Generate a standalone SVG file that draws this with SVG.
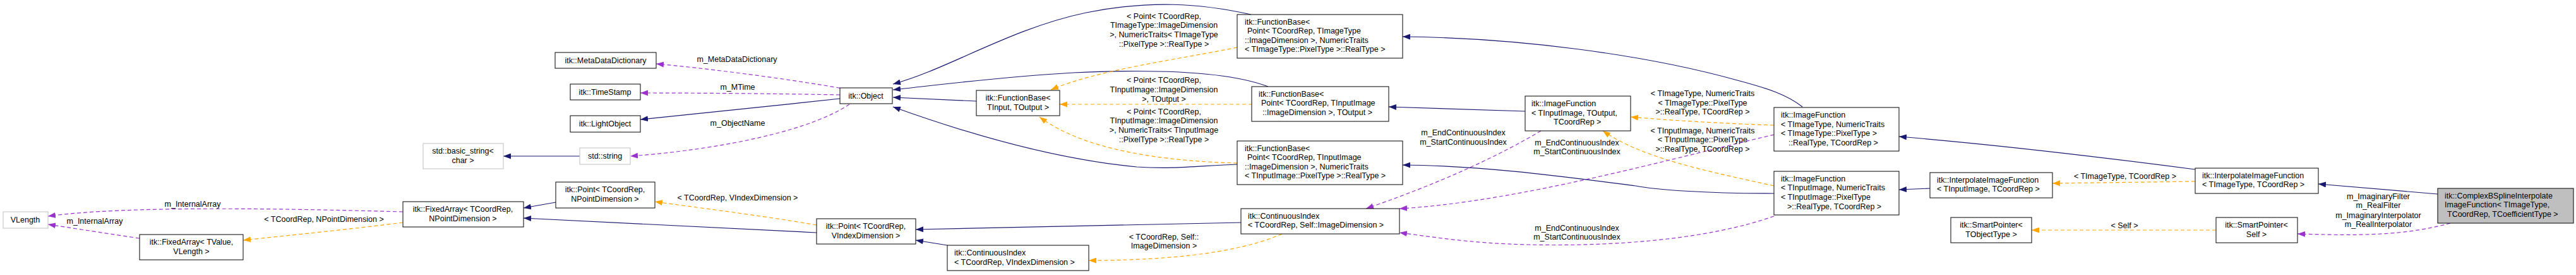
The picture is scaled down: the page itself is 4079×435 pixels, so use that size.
<svg xmlns="http://www.w3.org/2000/svg" width="4079" height="435" viewBox="0 0 4079 435">
<style>
text{font-family:"Liberation Sans",Arial,sans-serif;font-size:12.5px;fill:#000}
.n rect{fill:#fff;stroke:#000;stroke-width:1}
.g rect{fill:#fff;stroke:#bfbfbf;stroke-width:1}
.m rect{fill:#bfbfbf;stroke:#000;stroke-width:1}
.c{text-anchor:middle}
.e path{fill:none;stroke-width:1.2}
.i{stroke:#191970}
.u{stroke:#9a32cd;stroke-dasharray:6,4}
.t{stroke:#ffa500;stroke-dasharray:6,4}
</style>
<defs>
<marker id="ai" markerUnits="userSpaceOnUse" markerWidth="12" markerHeight="9" refX="12" refY="4.5" orient="auto"><path d="M0,0L12,4.5L0,9z" fill="#191970"/></marker>
<marker id="au" markerUnits="userSpaceOnUse" markerWidth="12" markerHeight="9" refX="12" refY="4.5" orient="auto"><path d="M0,0L12,4.5L0,9z" fill="#9a32cd"/></marker>
<marker id="at" markerUnits="userSpaceOnUse" markerWidth="12" markerHeight="9" refX="12" refY="4.5" orient="auto"><path d="M0,0L12,4.5L0,9z" fill="#ffa500"/></marker>
</defs>
<rect width="4079" height="435" fill="#fff"/>
<g id="edges" class="e">
<path class="u" marker-end="url(#au)" d="M638,335 C450,330 200,325 76,342"/>
<path class="u" marker-end="url(#au)" d="M221,377 C160,368 110,360 76,355"/>
<path class="t" marker-end="url(#at)" d="M638,352 C560,362 460,372 385,380"/>
<path class="i" marker-end="url(#ai)" d="M880,320 L829,329"/>
<path class="i" marker-end="url(#ai)" d="M1293,368 C1100,358 950,350 829,345"/>
<path class="t" marker-end="url(#at)" d="M1293,356 C1200,340 1100,328 1037,319"/>
<path class="i" marker-end="url(#ai)" d="M918,247 L797,247"/>
<path class="u" marker-end="url(#au)" d="M1340,141 C1250,125 1120,108 1039,101"/>
<path class="u" marker-end="url(#au)" d="M1330,150 C1220,148 1100,147 1014,147"/>
<path class="i" marker-end="url(#ai)" d="M1330,156 C1220,168 1100,180 1014,189"/>
<path class="u" marker-end="url(#au)" d="M1345,165 C1270,215 1100,240 998,247"/>
<path class="i" marker-end="url(#ai)" d="M1981,23 C1900,5 1820,0 1720,20 C1600,45 1500,110 1414,133"/>
<path class="i" marker-end="url(#ai)" d="M2008,137 C1950,115 1850,108 1700,115 C1580,122 1480,135 1414,142"/>
<path class="i" marker-end="url(#ai)" d="M1546,160 L1414,154"/>
<path class="i" marker-end="url(#ai)" d="M1959,260 C1900,262 1860,268 1800,264 C1650,250 1500,200 1414,169"/>
<path class="t" marker-end="url(#at)" d="M1959,75 C1860,95 1740,110 1664,142"/>
<path class="t" marker-end="url(#at)" d="M1983,165 L1678,165"/>
<path class="t" marker-end="url(#at)" d="M1959,258 C1850,255 1720,240 1646,185"/>
<path class="i" marker-end="url(#ai)" d="M1966,352 L1450,363"/>
<path class="i" marker-end="url(#ai)" d="M1500,388 L1450,380"/>
<path class="t" marker-end="url(#at)" d="M2030,370 C1950,405 1820,412 1724,412"/>
<path class="i" marker-end="url(#ai)" d="M2415,176 L2199,169"/>
<path class="i" marker-end="url(#ai)" d="M2854,169 C2830,150 2800,140 2751,127 C2600,85 2400,60 2221,58"/>
<path class="i" marker-end="url(#ai)" d="M2809,306 C2700,306 2620,300 2590,294 C2480,280 2350,262 2221,261"/>
<path class="t" marker-end="url(#at)" d="M2809,198 C2720,195 2640,190 2582,185"/>
<path class="t" marker-end="url(#at)" d="M2809,294 C2700,270 2600,250 2538,207"/>
<path class="u" marker-end="url(#au)" d="M2440,207 C2350,260 2250,300 2163,330"/>
<path class="u" marker-end="url(#au)" d="M2809,213 C2650,250 2400,320 2216,330"/>
<path class="u" marker-end="url(#au)" d="M2809,342 C2700,380 2550,390 2420,387 C2330,385 2270,375 2216,368"/>
<path class="i" marker-end="url(#ai)" d="M3476,268 C3300,245 3150,228 3007,216"/>
<path class="i" marker-end="url(#ai)" d="M3056,298 L3007,300"/>
<path class="t" marker-end="url(#at)" d="M3476,287 L3250,290"/>
<path class="t" marker-end="url(#at)" d="M3509,364 L3217,364"/>
<path class="i" marker-end="url(#ai)" d="M3860,307 L3671,291"/>
<path class="u" marker-end="url(#au)" d="M3880,353 C3800,375 3720,372 3638,370"/>
</g>
<g id="edge-labels">
<text class="c" x="305" y="327">m_InternalArray</text>
<text class="c" x="150" y="354">m_InternalArray</text>
<text class="c" x="513" y="351">&lt; TCoordRep, NPointDimension &gt;</text>
<text class="c" x="1168" y="317">&lt; TCoordRep, VIndexDimension &gt;</text>
<text class="c" x="1167" y="98">m_MetaDataDictionary</text>
<text class="c" x="1168" y="142">m_MTime</text>
<text class="c" x="1168" y="199">m_ObjectName</text>
<text class="c" x="1843"><tspan x="1843" y="30">&lt; Point&lt; TCoordRep,</tspan><tspan x="1843" y="44">TImageType::ImageDimension</tspan><tspan x="1843" y="59">&gt;, NumericTraits&lt; TImageType</tspan><tspan x="1843" y="74">::PixelType &gt;::RealType &gt;</tspan></text>
<text class="c" x="1843"><tspan x="1843" y="131">&lt; Point&lt; TCoordRep,</tspan><tspan x="1843" y="146">TInputImage::ImageDimension</tspan><tspan x="1843" y="161">&gt;, TOutput &gt;</tspan></text>
<text class="c" x="1843"><tspan x="1843" y="181">&lt; Point&lt; TCoordRep,</tspan><tspan x="1843" y="195">TInputImage::ImageDimension</tspan><tspan x="1843" y="210">&gt;, NumericTraits&lt; TInputImage</tspan><tspan x="1843" y="225">::PixelType &gt;::RealType &gt;</tspan></text>
<text class="c" x="1843"><tspan x="1843" y="379">&lt; TCoordRep, Self::</tspan><tspan x="1843" y="393">ImageDimension &gt;</tspan></text>
<text class="c" x="2317"><tspan x="2317" y="214">m_EndContinuousIndex</tspan><tspan x="2317" y="229">m_StartContinuousIndex</tspan></text>
<text class="c" x="2497"><tspan x="2497" y="230">m_EndContinuousIndex</tspan><tspan x="2497" y="244">m_StartContinuousIndex</tspan></text>
<text class="c" x="2497"><tspan x="2497" y="365">m_EndContinuousIndex</tspan><tspan x="2497" y="379">m_StartContinuousIndex</tspan></text>
<text class="c" x="2696"><tspan x="2696" y="152">&lt; TImageType, NumericTraits</tspan><tspan x="2696" y="167">&lt; TImageType::PixelType</tspan><tspan x="2696" y="181">&gt;::RealType, TCoordRep &gt;</tspan></text>
<text class="c" x="2696"><tspan x="2696" y="211">&lt; TInputImage, NumericTraits</tspan><tspan x="2696" y="225">&lt; TInputImage::PixelType</tspan><tspan x="2696" y="240">&gt;::RealType, TCoordRep &gt;</tspan></text>
<text class="c" x="3365" y="283">&lt; TImageType, TCoordRep &gt;</text>
<text class="c" x="3364" y="361">&lt; Self &gt;</text>
<text class="c" x="3766"><tspan x="3766" y="315">m_ImaginaryFilter</tspan><tspan x="3766" y="329">m_RealFilter</tspan><tspan x="3766" y="345">m_ImaginaryInterpolator</tspan><tspan x="3766" y="359">m_RealInterpolator</tspan></text>
</g>
<g id="VLength" class="g"><rect x="5" y="335" width="71" height="26"/><text class="c" x="40" y="352">VLength</text></g>
<g id="FixedArrayTValue" class="n"><rect x="221" y="371" width="164" height="40"/><text class="c"><tspan x="303" y="387">itk::FixedArray&lt; TValue,</tspan><tspan x="303" y="402">VLength &gt;</tspan></text></g>
<g id="FixedArrayTCoordRep" class="n"><rect x="638" y="319" width="191" height="40"/><text class="c"><tspan x="733" y="335">itk::FixedArray&lt; TCoordRep,</tspan><tspan x="733" y="350">NPointDimension &gt;</tspan></text></g>
<g id="basic_string" class="g"><rect x="670" y="227" width="127" height="40"/><text class="c"><tspan x="733" y="243">std::basic_string&lt;</tspan><tspan x="733" y="258">char &gt;</tspan></text></g>
<g id="string" class="g"><rect x="918" y="234" width="80" height="26"/><text class="c" x="958" y="251">std::string</text></g>
<g id="PointNPoint" class="n"><rect x="880" y="288" width="157" height="41"/><text class="c"><tspan x="958" y="304">itk::Point&lt; TCoordRep,</tspan><tspan x="958" y="319">NPointDimension &gt;</tspan></text></g>
<g id="MetaDataDictionary" class="n"><rect x="879" y="83" width="160" height="25"/><text class="c" x="959" y="100">itk::MetaDataDictionary</text></g>
<g id="TimeStamp" class="n"><rect x="903" y="133" width="111" height="25"/><text class="c" x="958" y="150">itk::TimeStamp</text></g>
<g id="LightObject" class="n"><rect x="903" y="183" width="111" height="26"/><text class="c" x="958" y="200">itk::LightObject</text></g>
<g id="Object" class="n"><rect x="1330" y="139" width="83" height="25"/><text class="c" x="1371" y="156">itk::Object</text></g>
<g id="PointVIndex" class="n"><rect x="1293" y="346" width="157" height="40"/><text class="c"><tspan x="1371" y="362">itk::Point&lt; TCoordRep,</tspan><tspan x="1371" y="377">VIndexDimension &gt;</tspan></text></g>
<g id="FunctionBaseTInput" class="n"><rect x="1546" y="143" width="132" height="40"/><text class="c"><tspan x="1612" y="159">itk::FunctionBase&lt;</tspan><tspan x="1612" y="174">TInput, TOutput &gt;</tspan></text></g>
<g id="ContinuousIndexVIndex" class="n"><rect x="1500" y="388" width="224" height="40"/><text><tspan x="1511" y="404">itk::ContinuousIndex</tspan><tspan x="1511" y="419">&lt; TCoordRep, VIndexDimension &gt;</tspan></text></g>
<g id="FB1" class="n"><rect x="1959" y="23" width="262" height="69"/><text><tspan x="1971" y="39">itk::FunctionBase&lt;</tspan><tspan x="1975" y="53">Point&lt; TCoordRep, TImageType</tspan><tspan x="1971" y="68">::ImageDimension &gt;, NumericTraits</tspan><tspan x="1971" y="82">&lt; TImageType::PixelType &gt;::RealType &gt;</tspan></text></g>
<g id="FB2" class="n"><rect x="1982" y="137" width="217" height="55"/><text><tspan x="1993" y="153">itk::FunctionBase&lt;</tspan><tspan x="1997" y="167">Point&lt; TCoordRep, TInputImage</tspan><tspan x="1999" y="182">::ImageDimension &gt;, TOutput &gt;</tspan></text></g>
<g id="FB3" class="n"><rect x="1959" y="223" width="262" height="69"/><text><tspan x="1971" y="239">itk::FunctionBase&lt;</tspan><tspan x="1975" y="253">Point&lt; TCoordRep, TInputImage</tspan><tspan x="1971" y="268">::ImageDimension &gt;, NumericTraits</tspan><tspan x="1971" y="282">&lt; TInputImage::PixelType &gt;::RealType &gt;</tspan></text></g>
<g id="ContinuousIndexSelf" class="n"><rect x="1965" y="330" width="251" height="40"/><text><tspan x="1976" y="346">itk::ContinuousIndex</tspan><tspan x="1976" y="360">&lt; TCoordRep, Self::ImageDimension &gt;</tspan></text></g>
<g id="ImageFunctionTOutput" class="n"><rect x="2415" y="152" width="167" height="55"/><text><tspan x="2425" y="168">itk::ImageFunction</tspan><tspan x="2425" y="183">&lt; TInputImage, TOutput,</tspan><tspan x="2460" y="197">TCoordRep &gt;</tspan></text></g>
<g id="ImageFunctionTImageType" class="n"><rect x="2809" y="170" width="198" height="69"/><text><tspan x="2820" y="186">itk::ImageFunction</tspan><tspan x="2820" y="201">&lt; TImageType, NumericTraits</tspan><tspan x="2820" y="215">&lt; TImageType::PixelType &gt;</tspan><tspan x="2832" y="230">::RealType, TCoordRep &gt;</tspan></text></g>
<g id="ImageFunctionTInputImage" class="n"><rect x="2809" y="271" width="198" height="69"/><text><tspan x="2820" y="287">itk::ImageFunction</tspan><tspan x="2820" y="301">&lt; TInputImage, NumericTraits</tspan><tspan x="2820" y="316">&lt; TInputImage::PixelType</tspan><tspan x="2830" y="331">&gt;::RealType, TCoordRep &gt;</tspan></text></g>
<g id="InterpolateTInputImage" class="n"><rect x="3056" y="273" width="194" height="40"/><text><tspan x="3067" y="289">itk::InterpolateImageFunction</tspan><tspan x="3067" y="303">&lt; TInputImage, TCoordRep &gt;</tspan></text></g>
<g id="SmartPointerTObjectType" class="n"><rect x="3089" y="344" width="128" height="40"/><text class="c"><tspan x="3153" y="360">itk::SmartPointer&lt;</tspan><tspan x="3153" y="375">TObjectType &gt;</tspan></text></g>
<g id="InterpolateTImageType" class="n"><rect x="3476" y="266" width="195" height="40"/><text><tspan x="3487" y="282">itk::InterpolateImageFunction</tspan><tspan x="3487" y="296">&lt; TImageType, TCoordRep &gt;</tspan></text></g>
<g id="SmartPointerSelf" class="n"><rect x="3509" y="344" width="129" height="40"/><text class="c"><tspan x="3573" y="360">itk::SmartPointer&lt;</tspan><tspan x="3573" y="375">Self &gt;</tspan></text></g>
<g id="ComplexBSpline" class="m"><rect x="3860" y="298" width="215" height="55"/><text><tspan x="3871" y="314">itk::ComplexBSplineInterpolate</tspan><tspan x="3871" y="328">ImageFunction&lt; TImageType,</tspan><tspan x="3875" y="343">TCoordRep, TCoefficientType &gt;</tspan></text></g>
</svg>
